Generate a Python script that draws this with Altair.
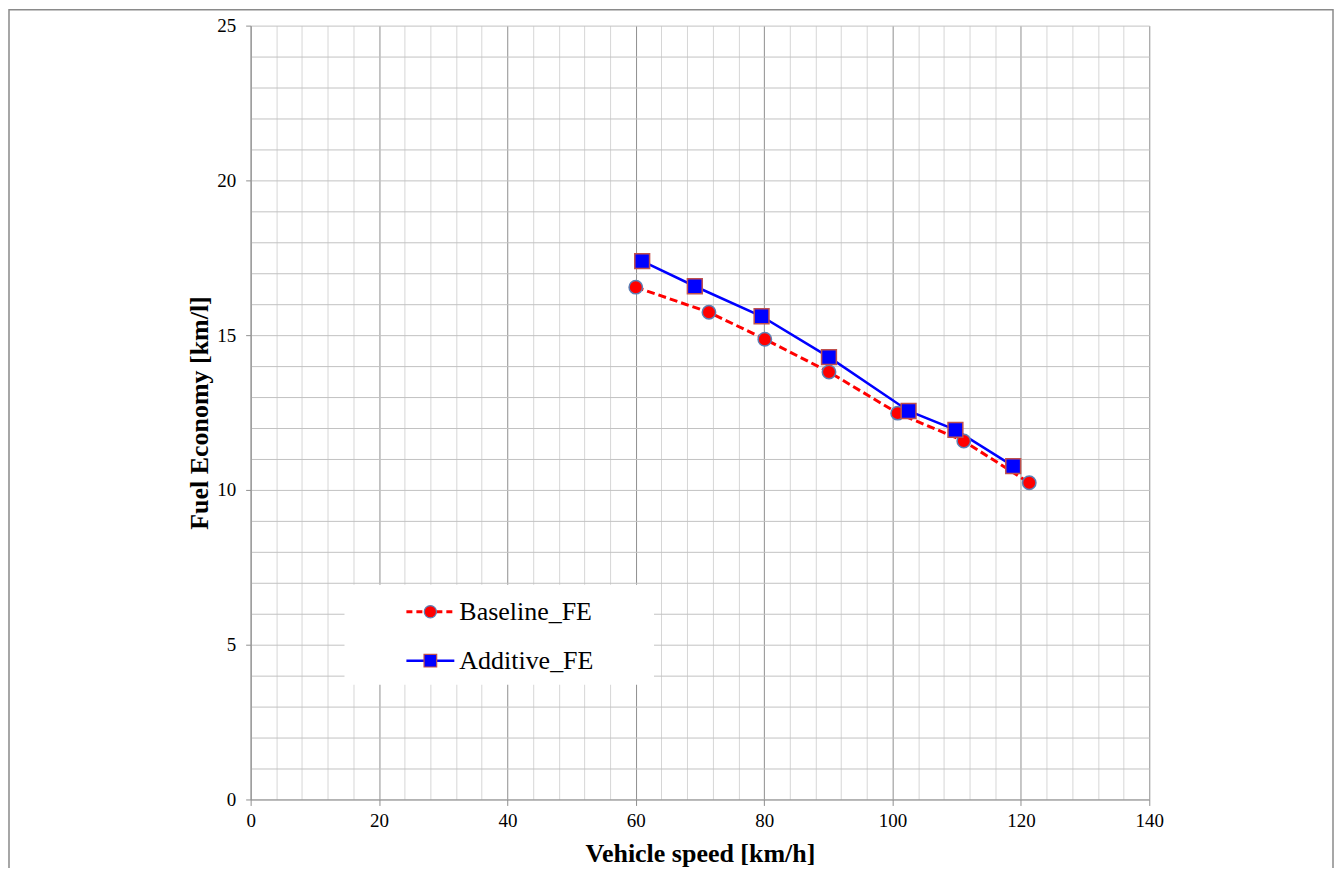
import altair as alt
import pandas as pd

# ---- data ----
base_speed = [60.0, 71.4, 80.1, 90.1, 100.8, 111.1, 121.3]
base_fe = [16.55, 15.74, 14.87, 13.81, 12.48, 11.58, 10.23]
add_speed = [61.0, 69.2, 79.6, 90.1, 102.5, 109.8, 118.8]
add_fe = [17.39, 16.58, 15.61, 14.29, 12.55, 11.94, 10.77]
x_ticks = list(range(0, 141, 4))
y_ticks = list(range(0, 26))
series = ["Baseline_FE", "Additive_FE"]

FONT = "Liberation Serif"

base_df = pd.DataFrame({"speed": base_speed, "fe": base_fe})
add_df = pd.DataFrame({"speed": add_speed, "fe": add_fe})

xscale = alt.Scale(domain=[0, 140], nice=False, zero=False)
yscale = alt.Scale(domain=[0, 25], nice=False)

x_axis = alt.Axis(
    values=x_ticks,
    gridColor={"condition": {"test": "datum.value % 20 == 0", "value": "#8f8f8f"}, "value": "#d6d6d6"},
    tickColor={"condition": {"test": "datum.value % 20 == 0", "value": "#8f8f8f"}, "value": "transparent"},
    tickSize=6,
    labelExpr="datum.value % 20 == 0 ? datum.label : ''",
    labelFlush=False,
    labelPadding=6,
    title="Vehicle speed [km/h]",
    titleY=54, titleBaseline="middle",
)
y_axis = alt.Axis(
    values=y_ticks,
    gridColor="#c2c2c2",
    tickColor={"condition": {"test": "datum.value % 5 == 0", "value": "#8f8f8f"}, "value": "transparent"},
    tickSize=5,
    labelExpr="datum.value % 5 == 0 ? datum.label : ''",
    labelFlush=False,
    labelPadding=10,
    title="Fuel Economy [km/l]",
    titleX=-51, titleBaseline="middle",
)

enc_x = alt.X("speed:Q", scale=xscale, axis=x_axis)
enc_y = alt.Y("fe:Q", scale=yscale, axis=y_axis)

base_line = alt.Chart(base_df).mark_line(color="#ff0000", strokeWidth=3, strokeDash=[8, 4]).encode(x=enc_x, y=enc_y)
add_line = alt.Chart(add_df).mark_line(color="#0000ff", strokeWidth=2.5).encode(x=enc_x, y=enc_y)
base_pts = alt.Chart(base_df).mark_point(
    shape="circle", filled=True, fill="#ff0000", stroke="#5b7fb5", strokeWidth=1.5, size=180, opacity=1
).encode(x=enc_x, y=enc_y)
add_pts = alt.Chart(add_df).mark_point(
    shape="square", filled=True, fill="#0000ff", stroke="#c0504d", strokeWidth=1.5, size=220, opacity=1
).encode(x=enc_x, y=enc_y)

# ---- manual legend ----
one = pd.DataFrame({"k": [0]})
leg_box = alt.Chart(one).mark_rect(fill="white", stroke=None).encode(
    x=alt.value(94), x2=alt.value(404), y=alt.value(560), y2=alt.value(660)
)
leg_layers = [leg_box]
leg_y = [587, 636]
for i, name in enumerate(series):
    d = pd.DataFrame({"label": [name]})
    if i == 0:
        ln = alt.Chart(d).mark_rule(color="#ff0000", strokeWidth=3, strokeDash=[6, 4])
        pt = alt.Chart(d).mark_point(shape="circle", filled=True, fill="#ff0000", stroke="#5b7fb5",
                                      strokeWidth=1.2, size=150, opacity=1)
    else:
        ln = alt.Chart(d).mark_rule(color="#0000ff", strokeWidth=2.5)
        pt = alt.Chart(d).mark_point(shape="square", filled=True, fill="#0000ff", stroke="#c0504d",
                                      strokeWidth=1.2, size=160, opacity=1)
    leg_layers.append(ln.encode(x=alt.value(156), x2=alt.value(204), y=alt.value(leg_y[i])))
    leg_layers.append(pt.encode(x=alt.value(180), y=alt.value(leg_y[i])))
    leg_layers.append(
        alt.Chart(d).mark_text(font=FONT, fontSize=26, align="left", baseline="middle", color="#000000")
        .encode(x=alt.value(209), y=alt.value(leg_y[i]), text="label:N")
    )

frame = alt.Chart(one).mark_rect(fill=None, stroke="#8a8a8a", strokeWidth=1.5).encode(
    x=alt.value(-242), x2=alt.value(1084), y=alt.value(-16), y2=alt.value(1000)
)

chart = alt.layer(base_line, add_line, base_pts, add_pts, *leg_layers, frame).properties(
    width=900, height=775,
    autosize=alt.AutoSizeParams(type="none"),
    padding={"left": 243, "top": 17, "right": 186, "bottom": 68},
    background="white",
).configure_view(strokeWidth=0).configure_axis(
    grid=True,
    gridWidth=1,
    labelOverlap=False,
    labelFont=FONT, labelFontSize=19, labelColor="#000000",
    domainColor="#8f8f8f", domainWidth=1,
    titleFont=FONT, titleFontSize=26, titleFontWeight="bold", titleColor="#000000",
)

chart.save("out.html", embed_options={"renderer": "svg", "actions": False})
